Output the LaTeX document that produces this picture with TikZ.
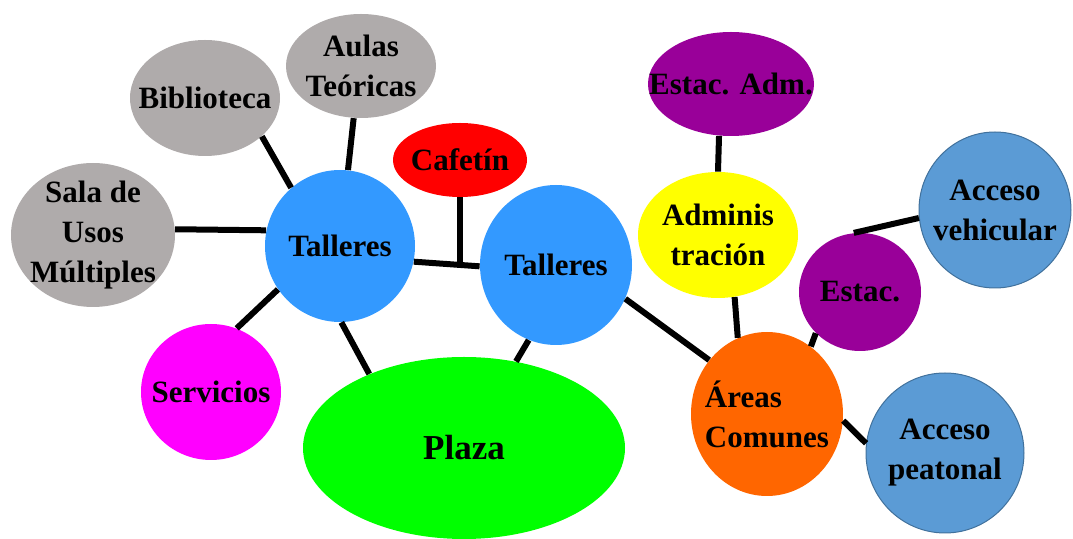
\documentclass[tikz,border=0pt]{standalone}
\usepackage{fontspec}
\setmainfont{Liberation Serif}
\usetikzlibrary{shapes.geometric}
\definecolor{ZonaGris}{RGB}{175,171,171}
\definecolor{ZonaAzul}{RGB}{51,153,255}
\definecolor{ZonaRojo}{RGB}{255,0,0}
\definecolor{ZonaMagenta}{RGB}{255,0,255}
\definecolor{ZonaVerde}{RGB}{0,255,0}
\definecolor{ZonaMorado}{RGB}{153,0,153}
\definecolor{ZonaAmarillo}{RGB}{255,255,0}
\definecolor{ZonaNaranja}{RGB}{255,102,0}
\definecolor{ZonaAcceso}{RGB}{91,155,213}
\definecolor{ZonaBorde}{RGB}{65,113,156}

\begin{document}
\begin{tikzpicture}[x=0.5pt,y=-0.5pt]
    \tikzset{zona/.style={ellipse,inner sep=-2cm,align=center,font=\bfseries\fontsize{15.5}{20}\selectfont},
      acceso/.style={zona,fill=ZonaAcceso,draw=ZonaBorde,line width=0.5pt},
      enlace/.style={line width=3pt,black}}
    \useasboundingbox (0,0) rectangle (1073,539);
    \node[zona,fill=ZonaGris,minimum width=75pt,minimum height=58pt] (bib) at (205,98) {Biblioteca};
    \node[zona,fill=ZonaGris,minimum width=75pt,minimum height=52pt] (aulas) at (361,66) {Aulas\\Teóricas};
    \node[zona,fill=ZonaGris,minimum width=82pt,minimum height=72pt] (sala) at (93,235) {Sala de\\Usos\\Múltiples};
    \node[zona,fill=ZonaAzul,minimum width=75pt,minimum height=76pt] (tl) at (340,246) {Talleres};
    \node[zona,fill=ZonaRojo,minimum width=67pt,minimum height=37pt] (caf) at (460,160) {Cafetín};
    \node[zona,fill=ZonaAzul,minimum width=76pt,minimum height=80pt] (tr) at (556,265) {Talleres};
    \node[zona,fill=ZonaMagenta,minimum width=70pt,minimum height=68pt] (serv) at (211,392) {Servicios};
    \node[zona,fill=ZonaVerde,minimum width=161pt,minimum height=91pt,font=\bfseries\fontsize{17.5}{20}\selectfont] (plaza) at (464,448) {Plaza};
    \node[zona,fill=ZonaMorado,minimum width=83pt,minimum height=52pt] (eadm) at (731,84) {Estac. Adm.};
    \node[zona,fill=ZonaAmarillo,minimum width=80pt,minimum height=63pt] (admin) at (718,235) {Adminis\\tración};
    \node[zona,fill=ZonaMorado,minimum width=61pt,minimum height=59pt] (estac) at (860,292) {Estac.};
    \node[acceso,minimum width=76pt,minimum height=78pt] (veh) at (995,210) {Acceso\\vehicular};
    \node[zona,fill=ZonaNaranja,minimum width=76pt,minimum height=82pt,align=left] (areas) at (767,414) {Áreas\\Comunes};
    \node[acceso,minimum width=79pt,minimum height=80pt] (peat) at (945,453) {Acceso\\peatonal};
    \draw[enlace] (bib.326) -- (tl.130);
    \draw[enlace] (aulas.262) -- (tl.84);
    \draw[enlace] (sala.4) -- (tl.168);
    \draw[enlace] (tl.348) -- coordinate (j) (tr.181);
    \draw[enlace] (caf.south) -- (caf.south |- j);
    \draw[enlace] (tl.215) -- (serv.68);
    \draw[enlace] (tl.271) -- (plaza.142);
    \draw[enlace] (tr.250) -- (plaza.59);
    \draw[enlace] (tr.334) -- (areas.137);
    \draw[enlace] (eadm.257) -- (admin.north);
    \draw[enlace] (admin.285) -- (areas.111);
    \draw[enlace] (estac.223) -- (areas.57);
    \draw[enlace] (estac.96) -- (veh.186);
    \draw[enlace] (areas.355) -- (peat.173);
\end{tikzpicture}
\end{document}
